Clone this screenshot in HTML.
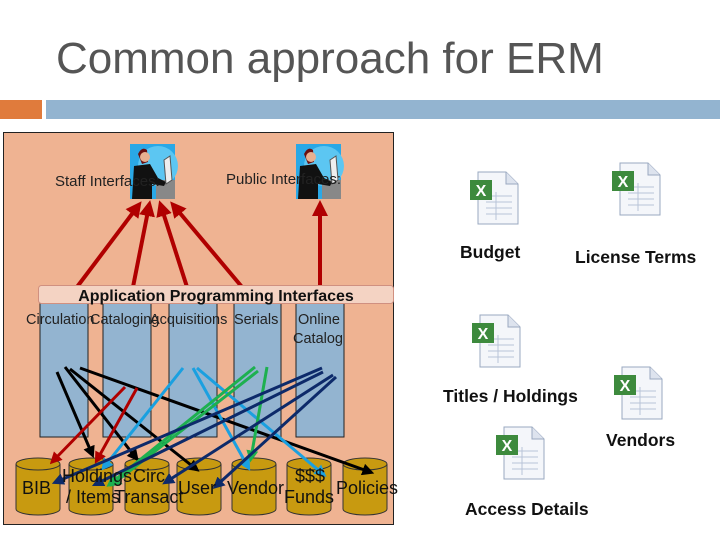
<!DOCTYPE html>
<html><head><meta charset="utf-8"><style>
body{margin:0;width:720px;height:540px;background:#fff;overflow:hidden;font-family:"Liberation Sans",sans-serif}
</style></head><body>
<svg width="720" height="540" xmlns="http://www.w3.org/2000/svg" font-family="Liberation Sans, sans-serif">
<defs>
<marker id="ar" markerWidth="4" markerHeight="4" refX="2.5" refY="2" orient="auto" markerUnits="strokeWidth"><path d="M0,0L4,2L0,4z" fill="#b00000"/></marker>
<marker id="ak" markerWidth="4" markerHeight="4" refX="2.5" refY="2" orient="auto" markerUnits="strokeWidth"><path d="M0,0L4,2L0,4z" fill="#000"/></marker>
<marker id="ab" markerWidth="4" markerHeight="4" refX="2.5" refY="2" orient="auto" markerUnits="strokeWidth"><path d="M0,0L4,2L0,4z" fill="#1aa0e0"/></marker>
<marker id="ag" markerWidth="4" markerHeight="4" refX="2.5" refY="2" orient="auto" markerUnits="strokeWidth"><path d="M0,0L4,2L0,4z" fill="#1db050"/></marker>
<marker id="an" markerWidth="4" markerHeight="4" refX="2.5" refY="2" orient="auto" markerUnits="strokeWidth"><path d="M0,0L4,2L0,4z" fill="#0d2a6a"/></marker>
<g id="xl">
<path d="M10,0H38L50,12V52H10Z" fill="#f4f6fa" stroke="#9aa8c0"/>
<path d="M38,0V12H50" fill="#dde3ee" stroke="#9aa8c0"/>
<g stroke="#b8c4d8"><line x1="18" y1="24" x2="44" y2="24"/><line x1="18" y1="30" x2="44" y2="30"/><line x1="18" y1="36" x2="44" y2="36"/><line x1="18" y1="42" x2="44" y2="42"/><line x1="28" y1="20" x2="28" y2="48"/></g>
<rect x="2" y="8" width="22" height="20" fill="#3d8a3d"/>
<text x="13" y="24" font-size="16" font-weight="bold" fill="#fff" text-anchor="middle">X</text>
</g>
<g id="person">
<rect width="45" height="55" fill="#2aa8e6"/>
<circle cx="28" cy="22" r="20" fill="#5cc6f2"/>
<rect x="26" y="36" width="19" height="19" fill="#888"/>
<path d="M8,10 Q12,2 17,6 L18,18 L12,20 Z" fill="#6a1010"/>
<circle cx="15" cy="13" r="5" fill="#e8b090"/>
<path d="M4,22 L20,20 L28,34 L36,38 L34,42 L22,40 L22,55 L2,55 Z" fill="#111"/>
<path d="M34,16 L40,12 L42,36 L36,40 Z" fill="#eee" stroke="#555"/>
</g>
</defs>
<text x="56" y="73" font-size="44" fill="#555">Common approach for ERM</text>
<rect x="0" y="100" width="42" height="19" fill="#e07b3c"/>
<rect x="46" y="100" width="674" height="19" fill="#93b4d0"/>
<rect x="3.5" y="132.5" width="390" height="392" fill="#efb392" stroke="#222"/>
<use href="#person" x="130" y="144"/>
<use href="#person" x="296" y="144"/>
<text x="55" y="186" font-size="15" fill="#222">Staff Interfaces:</text>
<text x="226" y="184" font-size="15" fill="#222">Public Interfaces:</text>
<g fill="#93b4d0" stroke="#222">
<rect x="40" y="303" width="48" height="134"/><rect x="103" y="303" width="48" height="134"/>
<rect x="169" y="303" width="48" height="134"/><rect x="234" y="303" width="47" height="134"/>
<rect x="296" y="303" width="48" height="134"/></g>
<g font-size="14.5" fill="#222">
<text x="26" y="324">Circulation</text><text x="90" y="324">Cataloging</text><text x="150" y="324">Acquisitions</text><text x="234" y="324">Serials</text>
<text x="298" y="324">Online</text><text x="293" y="343">Catalog</text></g>
<g stroke="#b00000" stroke-width="4" marker-end="url(#ar)">
<line x1="77" y1="287" x2="138" y2="206"/><line x1="133" y1="287" x2="149" y2="206"/>
<line x1="187" y1="287" x2="161" y2="206"/><line x1="242" y1="287" x2="174" y2="206"/>
<line x1="320" y1="287" x2="320" y2="206"/></g>
<rect x="38.5" y="285.5" width="355" height="18" rx="3" fill="#f4d3c3" stroke="#d09080"/>
<text x="216" y="301" font-size="16" font-weight="bold" text-anchor="middle" fill="#111">Application Programming Interfaces</text>
<g fill="#c89a10" stroke="#333">
<g id="cy"><path d="M16,464 V509 A22,6 0 0 0 60,509 V464" /><ellipse cx="38" cy="464" rx="22" ry="6"/></g>
<use href="#cy" x="53"/><use href="#cy" x="109"/><use href="#cy" x="161"/><use href="#cy" x="216"/><use href="#cy" x="271"/><use href="#cy" x="327"/></g>
<g stroke-width="3" fill="none">
<g stroke="#000" marker-end="url(#ak)"><line x1="57" y1="372" x2="92" y2="454"/><line x1="65" y1="367" x2="136" y2="458"/><line x1="70" y1="369" x2="196" y2="469"/><line x1="80" y1="368" x2="370" y2="472"/></g>
<g stroke="#b00000" marker-end="url(#ar)"><line x1="125" y1="387" x2="53" y2="461"/><line x1="137" y1="388" x2="97" y2="460"/></g>
<g stroke="#1aa0e0" marker-end="url(#ab)"><line x1="183" y1="368" x2="104" y2="467"/><line x1="193" y1="368" x2="248" y2="467"/><line x1="197" y1="368" x2="323" y2="474"/></g>
<g stroke="#1db050" marker-end="url(#ag)"><line x1="255" y1="367" x2="110" y2="484"/><line x1="258" y1="371" x2="113" y2="484"/><line x1="267" y1="367" x2="251" y2="458"/></g>
<g stroke="#0d2a6a" marker-end="url(#an)"><line x1="322" y1="368" x2="56" y2="482"/><line x1="323" y1="372" x2="96" y2="484"/><line x1="333" y1="375" x2="166" y2="482"/><line x1="336" y1="377" x2="216" y2="486"/></g>
</g>
<g font-size="18" fill="#111">
<text x="22" y="494">BIB</text><text x="62" y="482">Holdings</text><text x="66" y="503">/ Items</text>
<text x="133" y="482">Circ</text><text x="114" y="503">Transact</text>
<text x="178" y="494">User</text><text x="227" y="494">Vendor</text>
<text x="295" y="482">$$$</text><text x="284" y="503">Funds</text><text x="336" y="494">Policies</text></g>
<use href="#xl" x="468" y="172"/><use href="#xl" x="610" y="163"/><use href="#xl" x="470" y="315"/>
<use href="#xl" x="612" y="367"/><use href="#xl" x="494" y="427"/>
<g font-size="17.5" font-weight="bold" fill="#111">
<text x="460" y="258">Budget</text><text x="575" y="263">License Terms</text>
<text x="443" y="402">Titles / Holdings</text><text x="606" y="446">Vendors</text>
<text x="465" y="515">Access Details</text></g>
</svg>
</body></html>
